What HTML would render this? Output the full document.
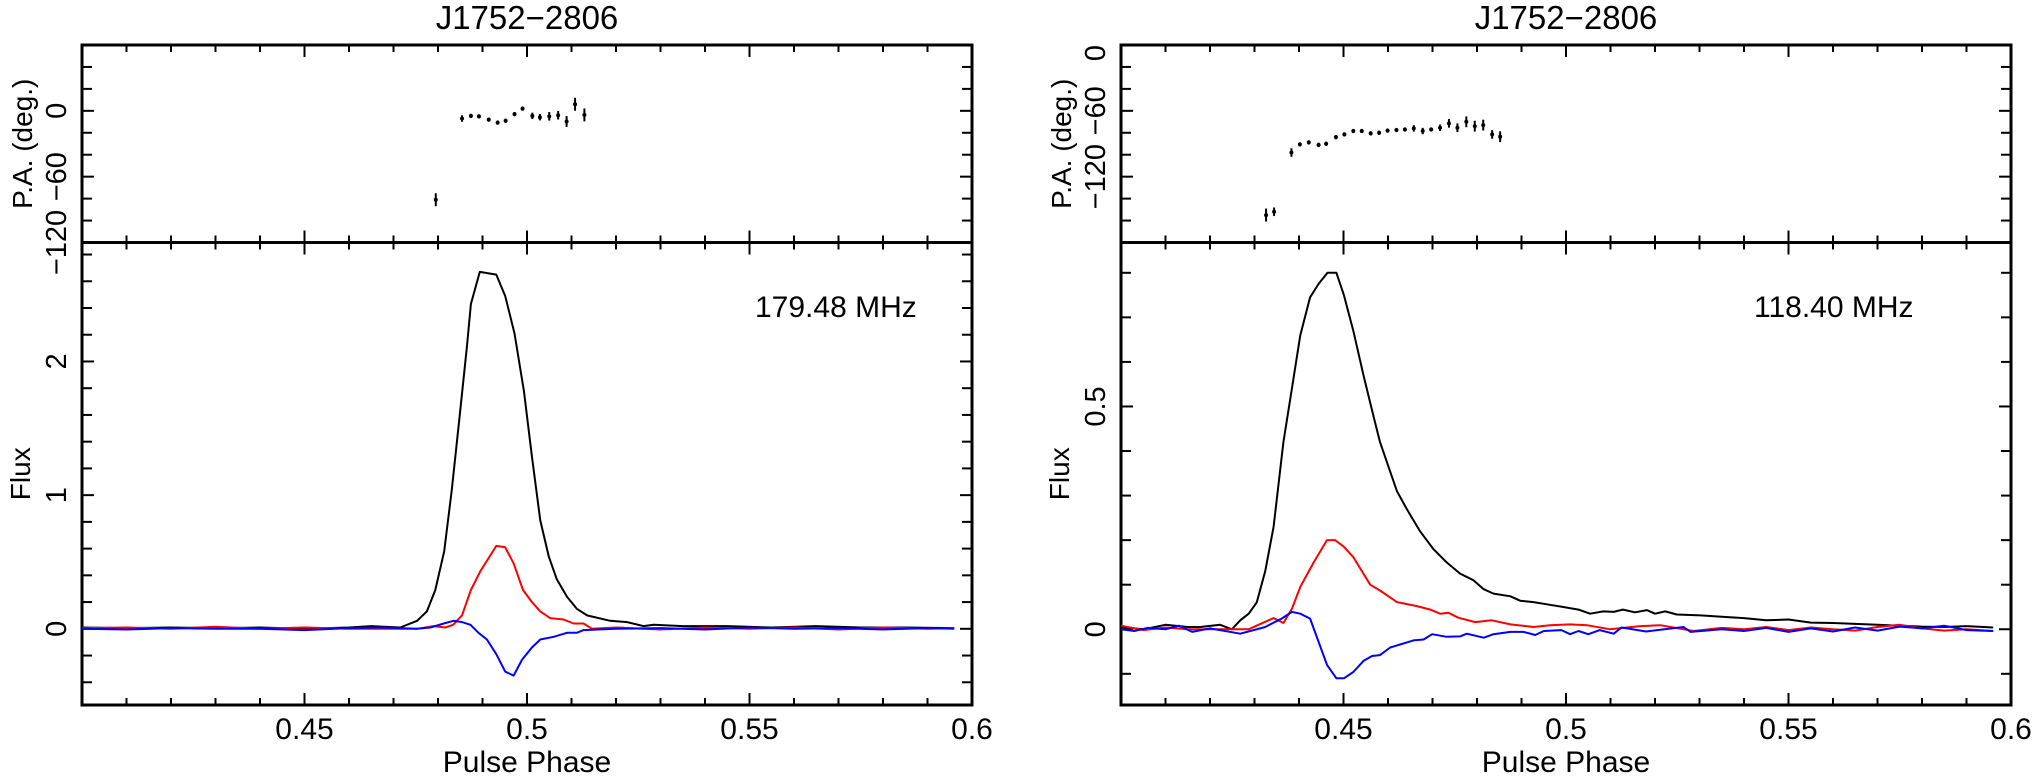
<!DOCTYPE html>
<html><head><meta charset="utf-8"><style>
html,body{margin:0;padding:0;background:#fff;}
svg{display:block;font-family:"Liberation Sans",sans-serif;}
</style></head><body>
<svg id="fig" width="2033" height="778" viewBox="0 0 2033 778" xmlns="http://www.w3.org/2000/svg"></svg>
<script>
// ---------- Left panel data (179.48 MHz) ----------
const L_I_phase=[0.400,0.41,0.42,0.43,0.44,0.45,0.46,0.465,0.4715,0.4753,0.4775,0.4794,0.4814,0.4831,0.4850,0.4865,0.4874,0.4894,0.4931,0.4951,0.4972,0.4993,0.5011,0.5030,0.5049,0.5067,0.5090,0.5112,0.5135,0.5187,0.5225,0.5262,0.5285,0.535,0.545,0.555,0.565,0.575,0.585,0.596];
const L_I_flux=[0.01,0.005,0.01,0.005,0.01,0.0,0.01,0.02,0.01,0.06,0.13,0.29,0.58,1.04,1.63,2.11,2.43,2.67,2.65,2.49,2.21,1.78,1.29,0.81,0.54,0.37,0.24,0.15,0.10,0.06,0.05,0.02,0.03,0.02,0.02,0.01,0.02,0.01,0.01,0.005];
const L_L_phase=[0.400,0.41,0.42,0.43,0.44,0.45,0.46,0.4753,0.479,0.4816,0.4834,0.4854,0.4874,0.4895,0.4931,0.4951,0.4970,0.4991,0.5011,0.5030,0.5052,0.5082,0.5105,0.5127,0.5146,0.52,0.53,0.54,0.55,0.56,0.57,0.58,0.59,0.596];
const L_L_flux=[0.005,0.01,0.0,0.015,0.0,0.01,0.0,0,0.02,0.01,0.03,0.10,0.29,0.43,0.62,0.61,0.49,0.29,0.20,0.13,0.08,0.07,0.04,0.04,0,0.01,-0.005,0.01,0.0,0.01,-0.005,0.01,0.0,0.005];
const L_V_phase=[0.400,0.41,0.42,0.43,0.44,0.45,0.46,0.467,0.4753,0.4783,0.4813,0.4835,0.4854,0.4873,0.4891,0.4910,0.4931,0.4951,0.4970,0.4989,0.5011,0.5030,0.5060,0.5090,0.5112,0.5127,0.52,0.53,0.54,0.55,0.56,0.57,0.58,0.59,0.596];
const L_V_flux=[0.0,-0.005,0.005,0.0,0.0,-0.01,0.005,0.01,0.0,0.01,0.04,0.06,0.05,0.03,-0.03,-0.08,-0.19,-0.32,-0.35,-0.23,-0.14,-0.08,-0.06,-0.03,-0.03,-0.01,0.0,0.005,-0.005,0.01,0.0,0.005,-0.005,0.005,0.0];
const L_PA_phase=[0.4795,0.4854,0.4874,0.4892,0.4914,0.4934,0.4952,0.4972,0.4990,0.5012,0.5029,0.5050,0.5070,0.5089,0.5108,0.5129];
const L_PA_deg=[-81,-7,-4.6,-5,-8,-10.7,-9,-3,2,-4.6,-5.8,-5,-4,-9.7,6,-3.7];
const L_PA_err=[5,2,1,1,1,1,1,1,1,2,2,3,3,4,5,5];
// ---------- Right panel data (118.40 MHz) ----------
const R_I_phase=[0.400,0.405,0.41,0.415,0.4178,0.4223,0.4249,0.4268,0.4287,0.4305,0.4324,0.4343,0.4365,0.4384,0.4403,0.4425,0.4444,0.4464,0.4484,0.4501,0.4522,0.4545,0.4567,0.4582,0.4620,0.4642,0.4672,0.4702,0.4732,0.4762,0.4792,0.4815,0.4837,0.4875,0.4897,0.4927,0.4957,0.4994,0.5028,0.5054,0.5084,0.5107,0.5128,0.5155,0.5182,0.520,0.5223,0.5249,0.5302,0.535,0.54,0.545,0.55,0.555,0.56,0.565,0.57,0.575,0.58,0.585,0.59,0.596];
const R_I_flux=[0.005,0.0,0.01,0.005,0.005,0.01,0,0.02,0.035,0.06,0.13,0.23,0.42,0.54,0.66,0.745,0.775,0.80,0.80,0.75,0.67,0.57,0.48,0.42,0.31,0.27,0.22,0.18,0.15,0.125,0.11,0.09,0.08,0.074,0.064,0.061,0.056,0.05,0.044,0.035,0.04,0.039,0.044,0.038,0.043,0.035,0.04,0.033,0.031,0.028,0.025,0.02,0.022,0.015,0.014,0.012,0.01,0.008,0.006,0.005,0.007,0.004];
const R_L_phase=[0.400,0.405,0.41,0.415,0.4178,0.4245,0.4287,0.4309,0.4343,0.4365,0.4384,0.4403,0.4433,0.4463,0.4481,0.4500,0.4522,0.4560,0.4582,0.4620,0.4665,0.4695,0.4717,0.4736,0.4758,0.4796,0.4833,0.4875,0.4927,0.4964,0.5009,0.5047,0.5099,0.5167,0.5212,0.5287,0.535,0.54,0.545,0.55,0.555,0.56,0.565,0.57,0.575,0.58,0.585,0.59,0.596];
const R_L_flux=[0.008,-0.002,0.004,0.0,0.0,0.0,0.0,0.01,0.025,0.014,0.046,0.095,0.15,0.20,0.20,0.186,0.162,0.10,0.087,0.061,0.052,0.044,0.035,0.037,0.026,0.016,0.02,0.011,0.005,0.009,0.011,0.009,0,0.007,0.009,-0.004,0.003,0.0,0.005,-0.002,0.004,0.0,-0.003,0.005,0.01,0.002,-0.003,0.0,-0.004];
const R_V_phase=[0.400,0.403,0.406,0.41,0.413,0.416,0.42,0.4268,0.4324,0.4361,0.4384,0.4403,0.4425,0.4463,0.4484,0.4501,0.4522,0.4545,0.4564,0.4582,0.4605,0.4657,0.4680,0.4699,0.4732,0.4762,0.4777,0.4815,0.4837,0.4875,0.4905,0.4931,0.4950,0.4990,0.5009,0.5028,0.5050,0.5076,0.5107,0.5125,0.518,0.5264,0.528,0.535,0.54,0.545,0.55,0.555,0.56,0.565,0.57,0.575,0.58,0.585,0.59,0.596];
const R_V_flux=[0.0,-0.004,0.003,0.0,0.008,-0.006,0.002,-0.01,0.005,0.024,0.039,0.035,0.024,-0.08,-0.11,-0.11,-0.096,-0.071,-0.06,-0.058,-0.041,-0.025,-0.023,-0.011,-0.017,-0.016,-0.01,-0.019,-0.011,-0.006,-0.006,-0.013,-0.004,-0.002,-0.011,-0.004,-0.011,-0.002,-0.01,0.004,-0.005,0.005,-0.006,0.0,-0.004,0.003,-0.006,0.002,-0.005,0.004,-0.003,0.006,0.002,0.008,-0.002,-0.004];
const R_PA_phase=[0.4326,0.4344,0.4383,0.4402,0.4422,0.4444,0.4461,0.4483,0.4502,0.4522,0.4541,0.4561,0.4580,0.4599,0.4619,0.4638,0.4658,0.4678,0.4697,0.4717,0.4737,0.4756,0.4776,0.4795,0.4814,0.4834,0.4852];
const R_PA_deg=[-155,-152,-98,-90.6,-88.8,-91,-90,-84,-81.5,-78.4,-78.4,-80.5,-80,-78,-77.5,-77,-76,-78.4,-77,-75.4,-71.4,-75.4,-70,-74,-73,-81.5,-83.6];
const R_PA_err=[5,3,3,1,1,1,1,1,1,1,1,1,1,1,1,1,2,2,1,2,3,3,4,4,4,3,4];
// tick label arrays
const X_TICK_LABELS=[0.45,0.5,0.55,0.6];
const L_FLUX_TICKS=[0,1,2];
const R_FLUX_TICKS=[0,0.5];
const L_PA_TICKS=[-120,-60,0];
const R_PA_TICKS=[-120,-60,0];

const NS="http://www.w3.org/2000/svg";
const svg=document.getElementById('fig');
function mk(tag,attrs,parent){const e=document.createElementNS(NS,tag);for(const k in attrs)e.setAttribute(k,attrs[k]);(parent||svg).appendChild(e);return e;}

function panel(o){
  const g=mk('g',{});
  
  
  const x0=o.x0,x1=o.x1,yT=45,yS=242.5,yB=705;
  const X=p=>x0+(p-0.4)/0.2*(x1-x0);
  const YP=a=>yT+(o.paMax-a)/(o.paMax-o.paMin)*(yS-yT);
  const YF=f=>yS+(o.fMax-f)/(o.fMax-o.fMin)*(yB-yS);
  const t=mk('text',{x:(x0+x1)/2,y:29,'font-size':33,'text-anchor':'middle'},g);
  t.textContent='J1752\u22122806';
  
  
  const tk=mk('g',{stroke:'#000','stroke-width':2},g);
  
  
  for(let i=0;i<=20;i++){
    const p=0.4+i*0.01,x=X(p),L=(i%5===0)?12:7;
    [[yT,1],[yS,-1],[yS,1],[yB,-1]].forEach(([y,d])=>mk('line',{x1:x,x2:x,y1:y,y2:y+d*L},tk));
  }
  for(let a=Math.ceil(o.paMin/20)*20;a<=o.paMax;a+=20){
    const y=YP(a),L=(a%60===0)?12:10;
    mk('line',{x1:x0,x2:x0+L,y1:y,y2:y},tk);mk('line',{x1:x1,x2:x1-L,y1:y,y2:y},tk);
  }
  for(let k=Math.ceil(o.fMin/o.fMinor-1e-9);k*o.fMinor<=o.fMax;k++){
    const f=k*o.fMinor,y=YF(f),maj=Math.abs(f/o.fMajor-Math.round(f/o.fMajor))<1e-6,L=maj?12:10;
    mk('line',{x1:x0,x2:x0+L,y1:y,y2:y},tk);mk('line',{x1:x1,x2:x1-L,y1:y,y2:y},tk);
  }
  const b1=mk('rect',{x:x0,y:yT,width:x1-x0,height:yS-yT,fill:'none',stroke:'#000','stroke-width':3},g);
  
  
  const b2=mk('rect',{x:x0,y:yS,width:x1-x0,height:yB-yS,fill:'none',stroke:'#000','stroke-width':3},g);
  
  
  X_TICK_LABELS.forEach(v=>{
    const e=mk('text',{x:X(v),y:739,'font-size':30,'text-anchor':'middle'},g);
    e.textContent=String(v);
    
    
  });
  const xl=mk('text',{x:(x0+x1)/2,y:772,'font-size':30,'text-anchor':'middle'},g);
  xl.textContent='Pulse Phase';
  
  
  const lx=x0-16;
  o.paTicks.forEach(v=>{
    const y=YP(v);
    const e=mk('text',{x:lx,y:y,'font-size':29,'text-anchor':(v===o.paMax?'end':'middle'),transform:`rotate(-90 ${lx} ${y})`},g);
    e.textContent=v<0?'\u2212'+Math.abs(v):String(v);
    
    
  });
  o.fTicks.forEach(v=>{
    const y=YF(v);
    const e=mk('text',{x:lx,y:y,'font-size':29,'text-anchor':'middle',transform:`rotate(-90 ${lx} ${y})`},g);
    e.textContent=String(v);
    
    
  });
  const tx=x0-50,py=(yT+yS)/2,fy=(yS+yB)/2;
  const pl=mk('text',{x:tx,y:py,'font-size':28,'text-anchor':'middle',transform:`rotate(-90 ${tx} ${py})`},g);
  pl.textContent='P.A. (deg.)';
  
  
  const fl=mk('text',{x:tx-2,y:fy,'font-size':28,'text-anchor':'middle',transform:`rotate(-90 ${tx-2} ${fy})`},g);
  fl.textContent='Flux';
  
  
  const fr=mk('text',{x:o.freqX,y:317,'font-size':30,'text-anchor':'start'},g);
  fr.textContent=o.freq;
  
  
  [[o.I,'#000','total-intensity-line'],[o.L,'#ff0000','linear-polarization-line'],[o.V,'#0000ff','circular-polarization-line']].forEach(([s,c,n])=>{
    const d=s[0].map((p,i)=>(i?'L':'M')+X(p).toFixed(1)+' '+YF(s[1][i]).toFixed(1)).join(' ');
    const e=mk('path',{d:d,fill:'none',stroke:c,'stroke-width':2,'stroke-linejoin':'round'},g);
    
    
  });
  const pg=mk('g',{stroke:'#000','stroke-width':2},g);
  
  
  o.pa[0].forEach((p,i)=>{
    const x=X(p),a=o.pa[1][i],e=o.pa[2][i];
    const ln=mk('line',{x1:x,x2:x,y1:YP(a+e)-1,y2:YP(a-e)+1},pg);
    
    
    const dt=mk('circle',{cx:x,cy:YP(a),r:2,fill:'#000',stroke:'none'},pg);
    
    
  });
}
panel({name:'left-panel-179mhz',x0:82,x1:972,paMin:-120,paMax:60,fMin:-0.57,fMax:2.89,fMinor:0.2,fMajor:1,
  paTicks:L_PA_TICKS,fTicks:L_FLUX_TICKS,freq:'179.48 MHz',freqX:755,
  I:[L_I_phase,L_I_flux],L:[L_L_phase,L_L_flux],V:[L_V_phase,L_V_flux],pa:[L_PA_phase,L_PA_deg,L_PA_err]});
panel({name:'right-panel-118mhz',x0:1121,x1:2011,paMin:-180,paMax:0,fMin:-0.17,fMax:0.868,fMinor:0.1,fMajor:0.5,
  paTicks:R_PA_TICKS,fTicks:R_FLUX_TICKS,freq:'118.40 MHz',freqX:1754,
  I:[R_I_phase,R_I_flux],L:[R_L_phase,R_L_flux],V:[R_V_phase,R_V_flux],pa:[R_PA_phase,R_PA_deg,R_PA_err]});
</script>
</body></html>
